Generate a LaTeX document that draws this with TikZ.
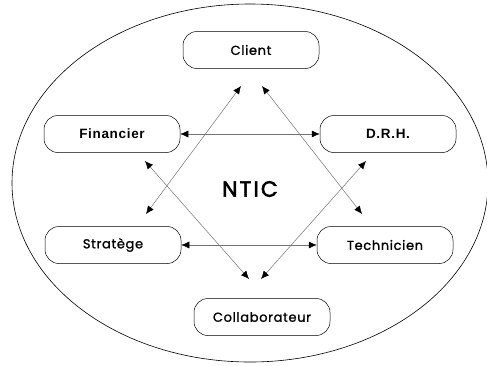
\documentclass[tikz,border=0pt]{standalone}
\usepackage{fontspec}
\setmainfont{Poppins}[FakeBold=1.2,LetterSpace=5]
\newfontfamily\boldsans{Liberation Sans}[LetterSpace=5]
\newfontfamily\titlefont{Poppins}[FakeBold=2.5,LetterSpace=9]
\usetikzlibrary{arrows.meta}
\begin{document}
\begin{tikzpicture}[x=1pt,y=-1pt,
  box/.style={draw=black,line width=0.5pt,rounded corners=14pt,minimum width=136pt,minimum height=37pt,inner sep=0pt,font=\fontsize{13}{15}\selectfont},
  boldbox/.style={box,font=\boldsans\bfseries\fontsize{13.5}{15}\selectfont},
  link/.style={draw=black!55,line width=0.5pt,{Latex[length=8pt,width=7pt,black]}-{Latex[length=8pt,width=7pt,black]}}]
  \useasboundingbox (0,0) rectangle (487,365);
  % outer boundary
  \draw[line width=0.6pt] (250,183) ellipse [x radius=238, y radius=179];
  % title
  \node (ntic) at (250,189) {\titlefont\fontsize{22}{25}\selectfont NTIC};
  % actors
  \node[box] (client) at (251,50) {Client};
  \node[boldbox] (fin) at (112,134) {Financier};
  \node[boldbox] (drh) at (388,134) {D.R.H.};
  \node[box] (strat) at (113,245) {Stratège};
  \node[box] (tech) at (385,245) {Technicien};
  \node[box] (coll) at (262,317) {Collaborateur};
  % anchor points of the links
  \coordinate (cl) at (241,86);
  \coordinate (cr) at (262,86);
  \coordinate (sa) at (146,214);
  \coordinate (ta) at (362,214);
  \coordinate (fa) at (145,161);
  \coordinate (da) at (366,161);
  \coordinate (kl) at (249,279);
  \coordinate (kr) at (261,279);
  % links
  \draw[link] (fin.east) -- (drh.west);
  \draw[link] (strat.east) -- (tech.west);
  \draw[link] (cl) -- (sa);
  \draw[link] (cr) -- (ta);
  \draw[link] (fa) -- (kl);
  \draw[link] (da) -- (kr);
\end{tikzpicture}
\end{document}
